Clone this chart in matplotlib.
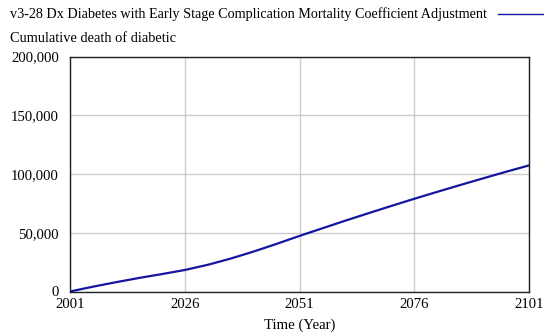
import matplotlib
matplotlib.use("Agg")
import matplotlib.pyplot as plt

years = [2001, 2006, 2011, 2016, 2021, 2026, 2031, 2036, 2041, 2046, 2051,
         2056, 2061, 2066, 2071, 2076, 2081, 2086, 2091, 2096, 2101]
deaths = [0, 4100, 7900, 11500, 14800, 18300, 22700, 28000, 34000, 40500, 47300,
          53800, 60300, 66600, 72800, 78900, 84800, 90600, 96300, 101900, 107300]
xticks = [2001, 2026, 2051, 2076, 2101]
yticks = [0, 50000, 100000, 150000, 200000]
series_name = "v3-28 Dx Diabetes with Early Stage Complication Mortality Coefficient Adjustment"
var_name = "Cumulative death of diabetic"

plt.rcParams['font.family'] = ['Liberation Serif', 'DejaVu Serif']

fig = plt.figure(figsize=(5.44, 3.33), dpi=100)
ax = fig.add_axes([70/544, 1 - 291.5/333, 459/544, 235/333])
ax.plot(years, deaths, color='#1515a0', lw=1.6)
ax.set_xlim(2001, 2101)
ax.set_ylim(0, 200000)
ax.set_xticks(xticks)
ax.set_yticks(yticks)
ax.set_yticklabels(["{:,}".format(v) for v in yticks])
ax.grid(True, color='#cccccc', lw=1)
ax.tick_params(length=0, labelsize=10.6)
ax.tick_params(axis='y', pad=8)
ax.tick_params(axis='x', pad=5)
for s in ax.spines.values():
    s.set_color('#222222')
    s.set_linewidth(1)
ax.set_xlabel("Time (Year)", fontsize=10.6, labelpad=5)

fig.text(10/544, 1 - 14/333, series_name, fontsize=10.2, va='center', ha='left')
fig.lines.append(plt.Line2D([498/544, 544/544], [1 - 13.5/333, 1 - 13.5/333],
                            transform=fig.transFigure, color='#1515a0', lw=1))
fig.text(10/544, 1 - 39/333, var_name, fontsize=10.4, va='center', ha='left')

plt.savefig("out.png", dpi=100)
